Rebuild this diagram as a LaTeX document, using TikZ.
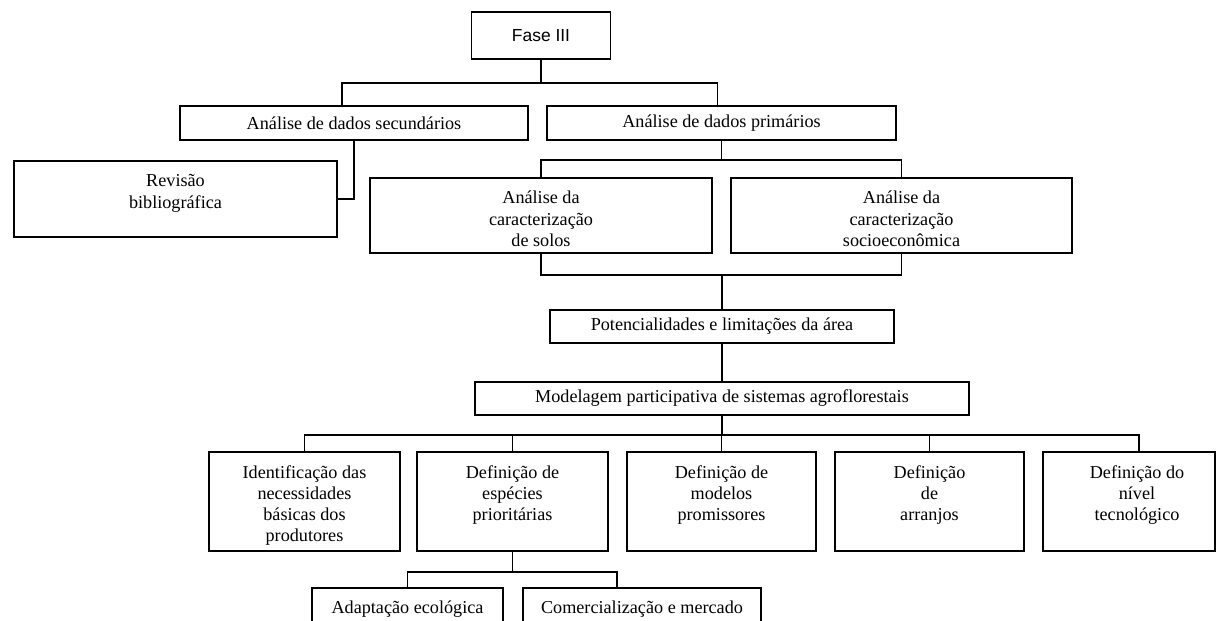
\documentclass[tikz,border=0pt]{standalone}
\usepackage{fontspec}
\setmainfont{Liberation Serif}
\newfontfamily\arialfont{Liberation Sans}
\newlength{\pxl}
\setlength{\pxl}{0.66pt}
\newcommand{\boxlines}[1]{\begin{tabular}[t]{@{}c@{}}#1\end{tabular}}
\tikzset{
  box/.style={draw, line width=1.1pt, inner sep=0pt, font=\fontsize{12}{13.9}\selectfont},
  tallbox/.style={box, text height=26\pxl, text depth=#1\pxl},
  link/.style={line width=1.1pt},
}
\begin{document}
\begin{tikzpicture}[x=\pxl, y=-\pxl]
\useasboundingbox (0,0) rectangle (1216,621);
\clip (0,0) rectangle (1216,621);

\node[box, minimum width=139\pxl, minimum height=47\pxl, font=\arialfont\fontsize{11.5}{13}\selectfont] (fase) at (541,35.5) {Fase III};
\node[box, minimum width=348\pxl, minimum height=34\pxl] (sec) at (354,123) {Análise de dados secundários};
\node[box, minimum width=349\pxl, minimum height=34\pxl] (prim) at (721.5,123) {Análise de dados primários};
\node[tallbox=50, minimum width=323\pxl] (rev) at (175.5,199) {\boxlines{Revisão\\bibliográfica}};
\node[tallbox=49, minimum width=342\pxl] (solos) at (541,215.5) {\boxlines{Análise da\\caracterização\\de solos}};
\node[tallbox=49, minimum width=341\pxl] (socio) at (901.5,215.5) {\boxlines{Análise da\\caracterização\\socioeconômica}};
\node[box, minimum width=344\pxl, minimum height=33\pxl] (pot) at (722,326.5) {Potencialidades e limitações da área};
\node[box, minimum width=494\pxl, minimum height=33\pxl] (mod) at (722,398.5) {Modelagem participativa de sistemas agroflorestais};

\node[tallbox=73, minimum width=191\pxl] (ident) at (304.5,501.5) {\boxlines{Identificação das\\necessidades\\básicas dos\\produtores}};
\node[tallbox=73, minimum width=191\pxl] (espec) at (512.5,501.5) {\boxlines{Definição de\\espécies\\prioritárias}};
\node[tallbox=73, minimum width=189\pxl] (model) at (721.5,501.5) {\boxlines{Definição de\\modelos\\promissores}};
\node[tallbox=73, minimum width=189\pxl] (arr) at (929.5,501.5) {\boxlines{Definição\\de\\arranjos}};
\node[tallbox=73, minimum width=172\pxl] (niv) at (1129,501.5) {\hspace*{16\pxl}\boxlines{Definição do\\nível\\tecnológico}};
\node[box, minimum width=191\pxl, minimum height=42\pxl] (adapt) at (407.5,609) {Adaptação ecológica};
\node[box, minimum width=238\pxl, minimum height=42\pxl] (comer) at (642,609) {Comercialização e mercado};

\draw[link] (fase.south) -- ++(0,23) coordinate (top);
\draw[link] ([xshift=-12\pxl]sec.north) |- (top) -| ([xshift=-4\pxl]prim.north);
\draw[link] (sec.south) |- (rev.east);
\draw[link] (prim.south) -- ++(0,19) coordinate (mid1);
\draw[link] (solos.north) |- (mid1) -| (socio.north);
\draw[link] (solos.south) -- ++(0,21) coordinate (mid2) -| (socio.south);
\draw[link] (mid2 -| pot.north) -- (pot.north);
\draw[link] (pot) -- (mod);
\draw[link] (mod.south) -- ++(0,19) coordinate (mid3);
\draw[link] (ident.north) |- (mid3) -| ([xshift=10\pxl]niv.north);
\foreach \n in {espec,model,arr}
  \draw[link] (\n.north) -- (\n.north |- mid3);
\draw[link] (espec.south) -- ++(0,20) coordinate (mid4);
\draw[link] (adapt.north) |- (mid4) -| ([xshift=-25\pxl]comer.north);
\end{tikzpicture}
\end{document}
